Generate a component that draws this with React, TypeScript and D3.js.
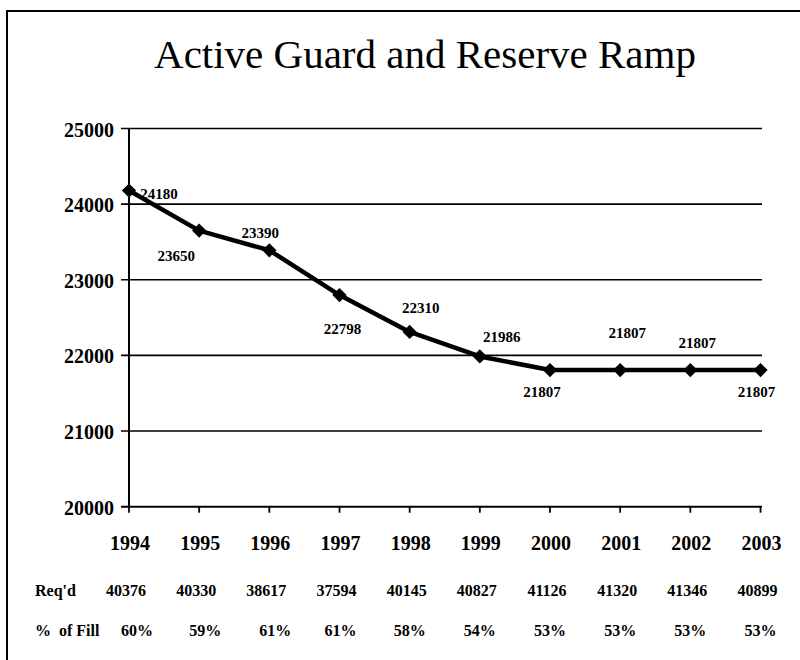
import React from "react";
import * as d3 from "d3";

const years = ["1994", "1995", "1996", "1997", "1998", "1999", "2000", "2001", "2002", "2003"];
const strength = [24180, 23650, 23390, 22798, 22310, 21986, 21807, 21807, 21807, 21807];
const required = ["40376", "40330", "38617", "37594", "40145", "40827", "41126", "41320", "41346", "40899"];
const fill = ["60%", "59%", "61%", "61%", "58%", "54%", "53%", "53%", "53%", "53%"];
const yTicks = [20000, 21000, 22000, 23000, 24000, 25000];
// label placement: [dx, dy] relative to point
const labelPos: Array<[number, number]> = [
  [30, 8], [-23, 30], [-9, -12], [3, 39], [11, -19], [22, -14], [-8, 27], [7, -32], [7, -22], [-4, 27],
];
const fillOffset = [8, 6, 6, 1, 0, 0, 0, 0, 0, 0];

const W = 800;
const H = 660;

export default function App() {
  const x = d3.scalePoint<string>().domain(years).range([129, 760.5]);
  const y = d3.scaleLinear().domain([20000, 25000]).range([506.7, 128.5]);
  const line = d3
    .line<number>()
    .x((_, i) => x(years[i]) as number)
    .y((d) => y(d));
  const diamond = d3.symbol().type(d3.symbolDiamond2).size(130)();

  return (
    <svg
      width={W}
      height={H}
      style={{ position: "absolute", left: 0, top: 0, background: "#fff", fontFamily: "'Liberation Serif', 'Times New Roman', Times, serif" }}
    >
      <rect x={0} y={0} width={W} height={H} fill="#fff" />
      <path d={`M${W + 5},11 H7 V${H + 5}`} fill="none" stroke="#000" strokeWidth={2} />
      <text x={425} y={68} textAnchor="middle" fontSize={41} fill="#000">
        Active Guard and Reserve Ramp
      </text>
      {yTicks.map((t) => (
        <g key={t}>
          <line x1={121} x2={762} y1={y(t)} y2={y(t)} stroke="#000" strokeWidth={t === 20000 ? 2 : 1.6} />
          <text x={114} y={y(t) + 8} textAnchor="end" fontSize={20} fontWeight="bold">
            {t}
          </text>
        </g>
      ))}
      <line x1={129} x2={129} y1={y(25000)} y2={y(20000) + 1} stroke="#000" strokeWidth={2} />
      {years.map((yr) => (
        <line key={yr} x1={x(yr)} x2={x(yr)} y1={y(20000)} y2={y(20000) + 6} stroke="#000" strokeWidth={1.8} />
      ))}
      <path d={line(strength) || ""} fill="none" stroke="#000" strokeWidth={4.5} strokeLinejoin="round" />
      {strength.map((v, i) => (
        <path key={i} d={diamond || ""} transform={`translate(${x(years[i])},${y(v)})`} fill="#000" />
      ))}
      {strength.map((v, i) => (
        <text
          key={"l" + i}
          x={(x(years[i]) as number) + labelPos[i][0]}
          y={y(v) + labelPos[i][1]}
          textAnchor="middle"
          fontSize={15}
          fontWeight="bold"
        >
          {v}
        </text>
      ))}
      {years.map((yr) => (
        <text key={"y" + yr} x={(x(yr) as number) + 1} y={550} textAnchor="middle" fontSize={20} fontWeight="bold">
          {yr}
        </text>
      ))}
      <text x={35} y={596} fontSize={16} fontWeight="bold">Req'd</text>
      {required.map((r, i) => (
        <text key={"r" + i} x={(x(years[i]) as number) - 3} y={596} textAnchor="middle" fontSize={16} fontWeight="bold">
          {r}
        </text>
      ))}
      <text x={35} y={636} fontSize={16} fontWeight="bold" xmlSpace="preserve">%  of Fill</text>
      {fill.map((f, i) => (
        <text key={"f" + i} x={(x(years[i]) as number) + fillOffset[i]} y={636} textAnchor="middle" fontSize={16} fontWeight="bold">
          {f}
        </text>
      ))}
    </svg>
  );
}
